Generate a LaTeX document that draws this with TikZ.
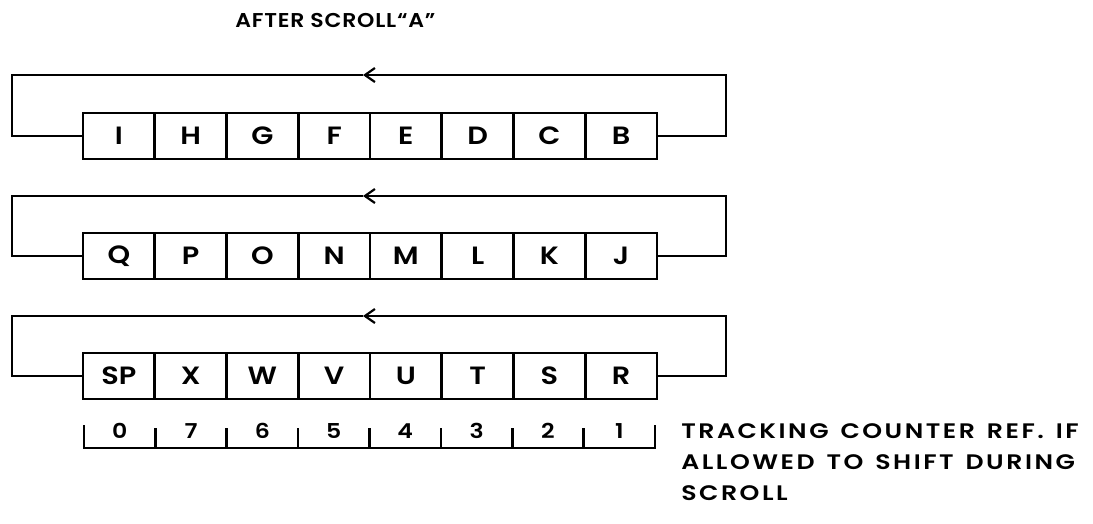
\documentclass[tikz,border=0pt]{standalone}
\usepackage{fontspec}
\setmainfont{Poppins SemiBold}[FakeStretch=1.2, LetterSpace=12, WordSpace=1.4]
\newfontfamily\titlefont{Poppins SemiBold}[FakeStretch=1.1, LetterSpace=4]
\newfontfamily\cellfont{Poppins SemiBold}[FakeStretch=1.15]
\usetikzlibrary{arrows.meta}
\begin{document}
\begin{tikzpicture}[x=1pt,y=-1pt,
  line width=2.6pt,
  cell/.style={draw, line width=2.6pt, minimum width=71.75pt, minimum height=46pt, inner sep=0pt, font=\cellfont\fontsize{25}{27}\selectfont},
  loopline/.style={line width=2.6pt, line join=miter},
  tip/.style={-{Straight Barb[length=10pt,width=14pt,line width=2.2pt]}},
  lbl/.style={font=\fontsize{21}{23}\selectfont, inner sep=0pt},
  tick/.style={line width=2.6pt}]
\useasboundingbox (0,0) rectangle (1093,523);
\node[lbl, font=\titlefont\fontsize{20}{22}\selectfont, anchor=base west] (title) at (234,27.5) {AFTER SCROLL“A”};
% rows
\foreach \r/\y/\letters in {1/136/{I,H,G,F,E,D,C,B}, 2/256/{Q,P,O,N,M,L,K,J}, 3/376/{SP,X,W,V,U,T,S,R}}{
  \foreach \t [count=\i] in \letters {
    \node[cell] (c\r-\i) at ({83+35.875+(\i-1)*71.75},\y) {\t};
  }
}
\foreach \r/\top in {1/75, 2/196, 3/316}{
  \coordinate (rt\r) at (726,\top);
  \coordinate (a\r) at (363,\top);
  \coordinate (lt\r) at (12,\top);
  \draw[loopline, tip] (c\r-8.east) -| (rt\r) -- (a\r);
  \draw[loopline] (a\r) -- (lt\r) |- (c\r-1.west);
}
% tracking counter
\coordinate (k0) at (84,448);
\coordinate (k8) at (655,448);
\draw[tick, line cap=rect] (84,426) -- (k0) -- (k8) -- (655,426);
\foreach \i in {1,...,7}{
  \draw[tick] ({84+\i*71.375},428) -- ({84+\i*71.375},448);
}
\foreach \d [count=\i] in {0,7,6,5,4,3,2,1}{
  \node[lbl, font=\cellfont\fontsize{20.5}{22}\selectfont, anchor=base] (d\i) at ({84+35.7+(\i-1)*71.375},438) {\d};
}
\node[lbl, anchor=base west] (t1) at (680,438) {TRACKING COUNTER REF. IF};
\node[lbl, anchor=base west] (t2) at (680,469) {ALLOWED TO SHIFT DURING};
\node[lbl, anchor=base west] (t3) at (680,500.5) {SCROLL};
\end{tikzpicture}
\end{document}
